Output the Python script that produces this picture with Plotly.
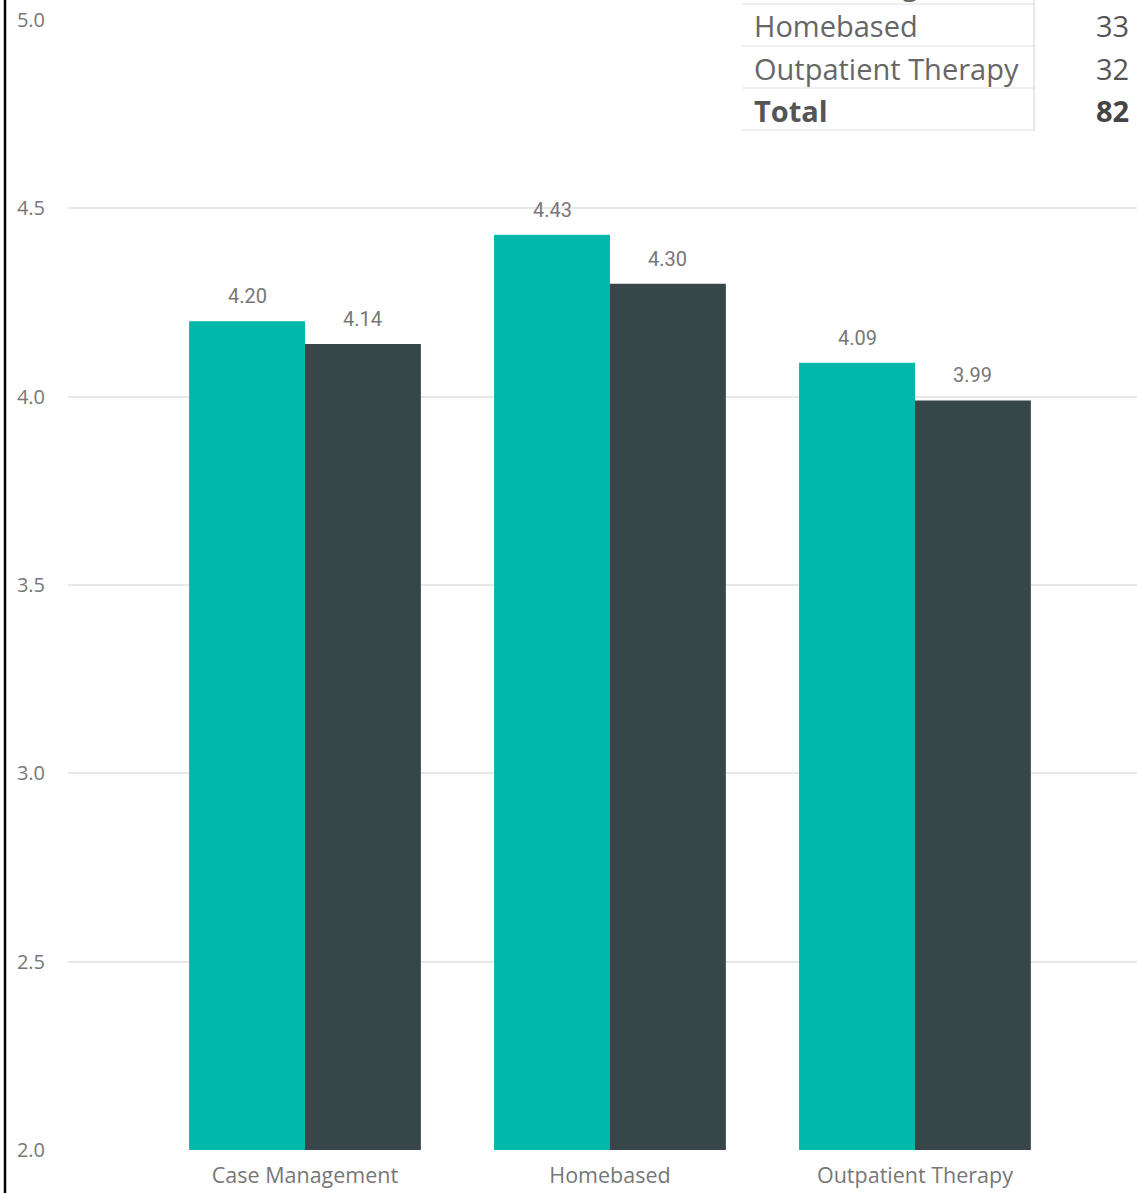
import plotly.graph_objects as go

categories = ["Case Management", "Homebased", "Outpatient Therapy"]
series_a = [4.20, 4.43, 4.09]
series_b = [4.14, 4.30, 3.99]
y_ticks = [2.0, 2.5, 3.0, 3.5, 4.0, 4.5, 5.0]

table_labels = ["Case Management", "Homebased", "Outpatient Therapy", "Total"]
table_values = [17, 33, 32, 82]

W, H = 1137, 1193
L, R, T, B = 68, 0, 20, 43
PW, PH = W - L - R, H - T - B


def px_x(px):
    return (px - L) / PW


def px_y(py):
    return (H - B - py) / PH


TEAL = "#01B8AA"
DARK = "#374649"

fig = go.Figure()
fig.add_trace(go.Bar(x=list(range(len(categories))), y=series_a, marker_color=TEAL,
                     name="A", marker_line_width=0))
fig.add_trace(go.Bar(x=list(range(len(categories))), y=series_b, marker_color=DARK,
                     name="B", marker_line_width=0))

annotations = []
bar_w = (1 - 0.24) / 2
for k, vals in enumerate([series_a, series_b]):
    off = (k - 0.5) * bar_w
    for j, v in enumerate(vals):
        annotations.append(dict(x=j + off, y=v, xref="x", yref="y", text=f"{v:.2f}",
                                showarrow=False, yshift=25,
                                font=dict(family="Roboto", size=20, color="#777777")))

# table overlay
row_centers = [-17, 26, 68, 110]
for lab, val, cy in zip(table_labels, table_values, row_centers):
    bold = lab == "Total"
    txt_l = f"<b>{lab}</b>" if bold else lab
    txt_v = f"<b>{val}</b>" if bold else str(val)
    col = "#555555" if bold else "#666666"
    annotations.append(dict(x=px_x(752), y=px_y(cy), xref="paper", yref="paper",
                            xanchor="left", yanchor="middle", text=txt_l, showarrow=False,
                            font=dict(family="Open Sans", size=29, color=col)))
    annotations.append(dict(x=px_x(1131), y=px_y(cy), xref="paper", yref="paper",
                            xanchor="right", yanchor="middle", text=txt_v, showarrow=False,
                            font=dict(family="Open Sans", size=29, color="#444444" if bold else "#555555")))

shapes = []
for ly in [4, 46, 88, 130]:
    shapes.append(dict(type="line", xref="paper", yref="paper",
                       x0=px_x(742), x1=px_x(1034), y0=px_y(ly), y1=px_y(ly),
                       line=dict(color="#e0e0e0", width=1)))
shapes.append(dict(type="line", xref="paper", yref="paper",
                   x0=px_x(1034), x1=px_x(1034), y0=px_y(-5), y1=px_y(131),
                   line=dict(color="#d0d0d0", width=1)))
# left border
shapes.append(dict(type="line", xref="paper", yref="paper",
                   x0=px_x(5), x1=px_x(5), y0=px_y(H + 5), y1=px_y(-5),
                   line=dict(color="#000000", width=2.5)))

fig.update_layout(
    width=W, height=H, autosize=False,
    margin=dict(l=L, r=R, t=T, b=B),
    paper_bgcolor="white", plot_bgcolor="white",
    barmode="group", bargap=0.24, bargroupgap=0,
    showlegend=False,
    annotations=annotations, shapes=shapes,
    xaxis=dict(range=[-0.777, 2.728], tickmode="array",
               tickvals=list(range(len(categories))), ticktext=categories,
               showgrid=False, zeroline=False, showline=False, ticks="",
               tickfont=dict(family="Open Sans", size=21.5, color="#777777"),
               ticklabelstandoff=10),
    yaxis=dict(range=[2.0, 5.0], tickvals=y_ticks, ticktext=[f"{t:.1f}" for t in y_ticks],
               showgrid=True, gridcolor="#e8e8e8", gridwidth=2, zeroline=False,
               showline=False, ticks="",
               tickfont=dict(family="Open Sans", size=20, color="#777777"),
               ticklabelstandoff=22),
)

fig.write_html("out.html")
